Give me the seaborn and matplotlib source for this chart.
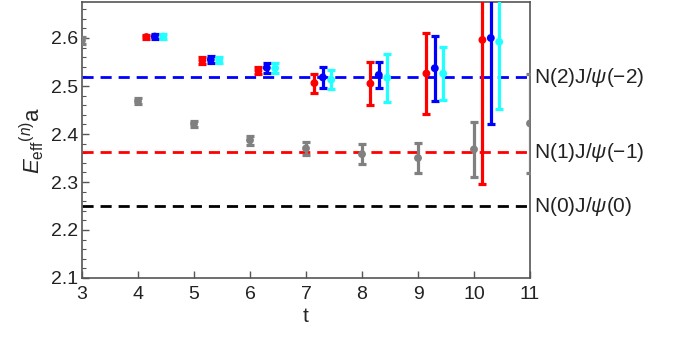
import numpy as np
import pandas as pd
import matplotlib
matplotlib.use("Agg")
import matplotlib.pyplot as plt
import seaborn as sns
from matplotlib.ticker import MultipleLocator

# ---- data ----
t_gray = [3, 4, 5, 6, 7, 8, 9, 10, 11]
e_gray = [2.595, 2.468, 2.421, 2.387, 2.370, 2.358, 2.350, 2.368, 2.422]
err_gray = [0.007, 0.006, 0.007, 0.009, 0.014, 0.021, 0.032, 0.057, 0.103]

t_sets = [4, 5, 6, 7, 8, 9, 10]
e_red = [2.602, 2.553, 2.532, 2.506, 2.505, 2.526, 2.596]
err_red = [0.005, 0.007, 0.008, 0.020, 0.044, 0.085, 0.30]
e_blue = [2.603, 2.555, 2.538, 2.518, 2.523, 2.537, 2.600]
err_blue = [0.005, 0.007, 0.010, 0.022, 0.028, 0.068, 0.18]
e_cyan = [2.603, 2.554, 2.537, 2.513, 2.517, 2.526, 2.592]
err_cyan = [0.005, 0.007, 0.010, 0.020, 0.050, 0.056, 0.14]

levels = [2.518, 2.3625, 2.25]
level_labels = [r"N(2)J/$\psi$(\u22122)", r"N(1)J/$\psi$(\u22121)", r"N(0)J/$\psi$(0)"]
level_labels = [s.replace("\\u2212", "\u2212") for s in level_labels]
level_colors = ["#0000ff", "#ff0000", "#000000"]

# ---- style ----
sns.set_theme(style="white")
plt.rcParams["font.family"] = ["Liberation Sans", "DejaVu Sans"]
plt.rcParams["mathtext.fontset"] = "custom"
plt.rcParams["mathtext.rm"] = "Liberation Sans"
plt.rcParams["mathtext.it"] = "Liberation Sans:italic"

fig = plt.figure(figsize=(6.73, 3.39), dpi=100)
ax = fig.add_axes([82 / 673, 61 / 339, 448 / 673, 276 / 339])

for y, c in zip(levels, level_colors):
    ax.axhline(y, color=c, lw=2, ls=(0, (4, 2.5)), zorder=1)

series = [
    (t_gray, e_gray, err_gray, 0.0, "#808080"),
    (t_sets, e_red, err_red, 0.15, "#ff0000"),
    (t_sets, e_blue, err_blue, 0.30, "#0000ff"),
    (t_sets, e_cyan, err_cyan, 0.45, "#22ffff"),
]
for tt, ee, er, off, col in series:
    x = np.array(tt, dtype=float) + off
    df = pd.DataFrame({"t": x, "E": ee})
    ax.errorbar(x, ee, yerr=er, fmt="none", ecolor=col, elinewidth=2.3,
                capsize=3.2, capthick=2.3, zorder=3)
    sns.scatterplot(data=df, x="t", y="E", color=col, s=32, edgecolor="none",
                    ax=ax, zorder=4, legend=False)

ax.set_xlim(3, 11)
ax.set_ylim(2.1, 2.675)
ax.xaxis.set_major_locator(MultipleLocator(1))
ax.yaxis.set_minor_locator(MultipleLocator(0.02))
ax.set_yticks([2.1, 2.2, 2.3, 2.4, 2.5, 2.6])
ax.tick_params(axis="both", which="major", direction="in", length=5, width=1,
               color="#555555", labelsize=14, labelcolor="#222222",
               top=False, right=False, left=True, bottom=True, pad=3)
ax.tick_params(axis="x", which="major", pad=6)
ax.tick_params(axis="y", which="minor", direction="in", length=3, width=0.8,
               color="#555555", left=True)
for s in ax.spines.values():
    s.set_color("#555555")
    s.set_linewidth(1.2)

ax.set_xlabel("t", fontsize=15, labelpad=3)
ax.set_ylabel(r"$E_{\mathrm{eff}}{}^{(n)}\mathrm{a}$", fontsize=16, labelpad=3)

for y, lab in zip(levels, level_labels):
    ax.annotate(lab, xy=(1.0, y), xycoords=("axes fraction", "data"),
                xytext=(3, 0), textcoords="offset points", va="center",
                ha="left", fontsize=15, color="#222222")

fig.savefig("out.png", dpi=100)
